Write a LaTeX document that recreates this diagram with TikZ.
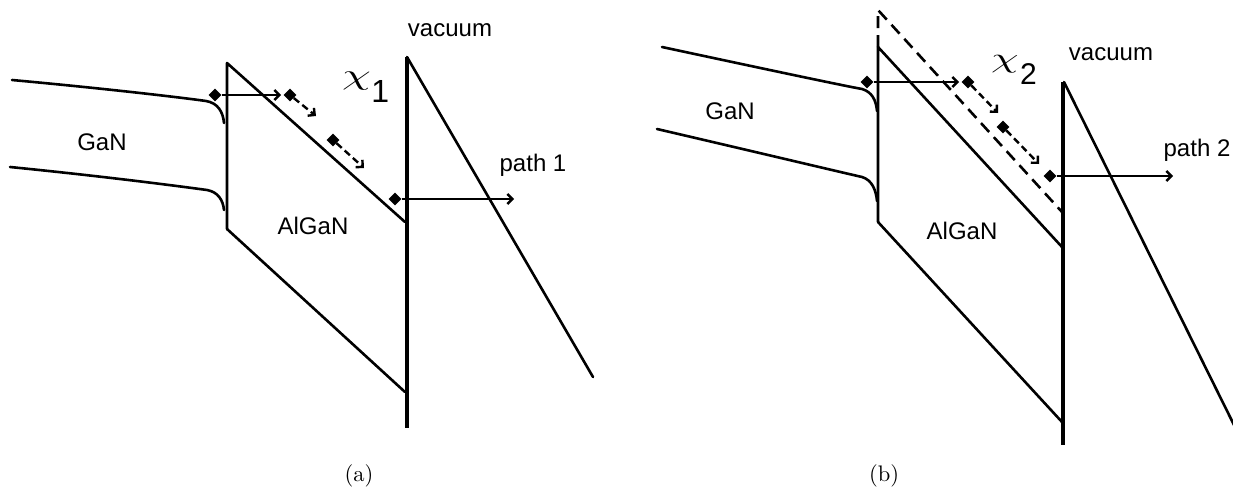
\documentclass[tikz,border=0pt]{standalone}
\usepackage{fontspec}
\newfontfamily\arial{Liberation Sans}
\usetikzlibrary{arrows.meta,shapes.geometric}
\begin{document}
\begin{tikzpicture}[x=1pt,y=-1pt,
  band/.style={line width=2.6pt, line join=round, line cap=round},
  wall/.style={line width=4pt},
  dband/.style={line width=2.6pt, dash pattern=on 12pt off 7pt},
  dot/.style={diamond, fill=black, draw=none, inner sep=0pt, minimum width=13pt, minimum height=13pt},
  hop/.style={line width=2.4pt, -{Straight Barb[length=5pt,width=10pt,line width=2.4pt]}},
  dhop/.style={hop, dash pattern=on 7pt off 4pt},
  lab/.style={font=\arial\fontsize{24}{24}\selectfont, inner sep=0pt},
  chilab/.style={inner sep=0pt, anchor=north west},
  subcap/.style={inner sep=0pt, scale=2.25}]
\useasboundingbox (0,0) rectangle (1233,490);

% ---------------- panel (a) ----------------
\draw[band] (12,80) .. controls (110,89) and (185,98) .. (206,101)
  .. controls (218,103) and (223,112) .. (224,123);
\draw[band] (10,167) .. controls (110,177) and (185,187) .. (207,190)
  .. controls (218,192) and (223,200) .. (224,210);
\draw[band] (227,229) -- (227,63) -- (405,222);
\draw[band] (227,229) -- (405,392);
\draw[wall] (407,57) -- (407,428);
\draw[band] (407,57) -- (593,377);

\node[dot] (a1) at (215,95) {};
\node[dot] (a2) at (290,95) {};
\node[dot] (a3) at (333,140) {};
\node[dot] (a4) at (395,199) {};
\coordinate (a1e) at (281,95);
\coordinate (a2e) at (316,116);
\coordinate (a3e) at (364,168);
\coordinate (a4e) at (514,199);
\draw[hop] (a1) -- (a1e);
\draw[dhop] (a2) -- (a2e);
\draw[dhop] (a3) -- (a3e);
\draw[hop] (a4) -- (a4e);

\node[lab] (gana) at (102,142) {GaN};
\node[lab] (algana) at (313,226) {AlGaN};
\node[lab] (vaca) at (450,30) {vacuum};
\node[lab] (patha) at (533,165) {path 1};
\node[chilab] (chia) at (342,72) {\scalebox{4.6}[2.9]{$\chi$}\hspace{0.5pt}\raisebox{-18pt}{\arial\fontsize{32}{32}\selectfont 1}};
\node[subcap] (capa) at (359,476) {(a)};

% ---------------- panel (b) ----------------
\draw[band] (662,47) .. controls (760,68) and (840,85) .. (862,89)
  .. controls (872,92) and (876,100) .. (877,111);
\draw[band] (657,129) .. controls (760,153) and (840,172) .. (862,177)
  .. controls (872,180) and (876,190) .. (877,201);
\draw[dband] (878,47) -- (878,10) -- (1062,212);
\draw[band] (878,222) -- (878,47) -- (1062,247);
\draw[band] (878,222) -- (1062,422);
\draw[wall] (1063,82) -- (1063,445);
\draw[band] (1064,82) -- (1236,429);

\node[dot] (b1) at (867,82) {};
\node[dot] (b2) at (968,82) {};
\node[dot] (b3) at (1003,127) {};
\node[dot] (b4) at (1050,176) {};
\coordinate (b1e) at (959,82);
\coordinate (b2e) at (998,113);
\coordinate (b3e) at (1039,164);
\coordinate (b4e) at (1173,176);
\draw[hop] (b1) -- (b1e);
\draw[dhop] (b2) -- (b2e);
\draw[dhop] (b3) -- (b3e);
\draw[hop] (b4) -- (b4e);

\node[lab] (ganb) at (730,111) {GaN};
\node[lab] (alganb) at (962,231) {AlGaN};
\node[lab] (vacb) at (1111,54) {vacuum};
\node[lab] (pathb) at (1197,150) {path 2};
\node[chilab] (chib) at (991,55) {\scalebox{4.4}[2.8]{$\chi$}\hspace{1.5pt}\raisebox{-17pt}{\arial\fontsize{30}{30}\selectfont 2}};
\node[subcap] (capb) at (884,476) {(b)};
\end{tikzpicture}
\end{document}
